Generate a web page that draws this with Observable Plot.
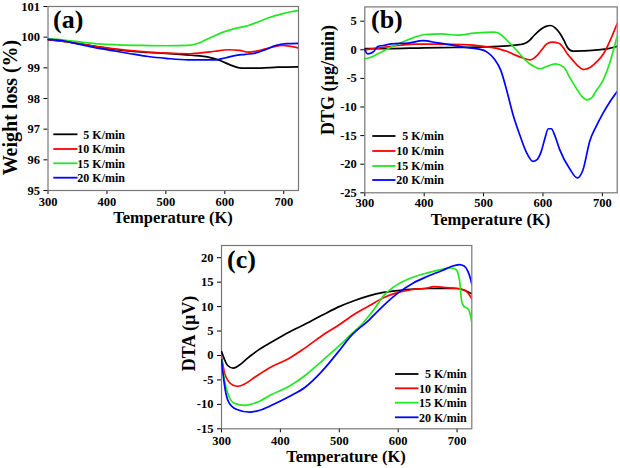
<!DOCTYPE html>
<html><head><meta charset="utf-8">
<script src="https://cdn.jsdelivr.net/npm/d3@7"></script>
<script src="https://cdn.jsdelivr.net/npm/@observablehq/plot@0.6"></script>
<style>
body{margin:0;background:#fff;}
#wrap{position:relative;width:620px;height:468px;overflow:hidden;}
.panel{position:absolute;}
#overlay{position:absolute;left:0;top:0;pointer-events:none;}
</style></head>
<body><div id="wrap"></div>
<script>
const series = ["5 K/min", "10 K/min", "15 K/min", "20 K/min"];
const colors = ["#000000", "#ff0000", "#22e622", "#0000ff"];
const tempTicks = [300, 400, 500, 600, 700];
const tgaTicks = [95, 96, 97, 98, 99, 100, 101];
const dtgTicks = [5, 0, -5, -10, -15, -20, -25];
const dtaTicks = [20, 15, 10, 5, 0, -5, -10, -15];

// (a) Weight loss (%)
const tga5 = [[300,99.92],[320,99.88],[350,99.8],[380,99.7],[413,99.6],[440,99.54],[470,99.5],[500,99.47],[543,99.41],[572,99.35],[592,99.24],[611,99.08],[628,98.99],[660,98.99],[690,99.02],[725,99.03]];
const tga10 = [[300,99.92],[320,99.88],[350,99.8],[380,99.7],[413,99.62],[440,99.56],[470,99.51],[500,99.48],[538,99.46],[560,99.49],[583,99.54],[606,99.59],[625,99.57],[640,99.51],[662,99.58],[680,99.67],[697,99.73],[712,99.7],[725,99.65]];
const tga15 = [[300,99.95],[330,99.9],[360,99.83],[385,99.78],[420,99.75],[460,99.73],[500,99.72],[538,99.73],[555,99.8],[566,99.9],[580,100.02],[594,100.14],[615,100.27],[640,100.38],[657,100.5],[677,100.65],[697,100.76],[710,100.82],[725,100.87]];
const tga20 = [[300,99.93],[320,99.9],[350,99.78],[380,99.66],[413,99.55],[440,99.46],[470,99.37],[500,99.31],[538,99.26],[583,99.26],[600,99.32],[617,99.4],[635,99.44],[652,99.48],[670,99.6],[686,99.73],[705,99.79],[725,99.8]];

// (b) DTG (µg/min)
const dtg5 = [[300,0.2],[340,0.2],[400,0.35],[450,0.4],[500,0.5],[540,0.7],[560,0.9],[568,1.05],[577,1.6],[585,2.5],[596,3.55],[605,4.1],[613,4.25],[621,3.8],[629,2.8],[636,1.5],[641,0.45],[650,-0.24],[665,-0.2],[691,0],[710,0.2],[725,0.6]];
const dtg10 = [[300,0],[315,0.2],[333,0.45],[360,0.8],[384,1.0],[420,1.0],[467,0.9],[500,0.6],[524,0.2],[540,-0.3],[551,-0.8],[565,-1.4],[579,-1.75],[590,-1.0],[598,0],[606,1.0],[615,1.33],[627,1.15],[634,0.4],[641,-0.7],[650,-1.8],[658,-2.74],[669,-3.44],[680,-3.04],[690,-2.17],[702,-0.7],[713,1.6],[725,4.6]];
const dtg15 = [[300,-1.6],[310,-1.3],[322,-0.7],[344,0.45],[373,1.75],[401,2.67],[429,2.8],[456,2.55],[484,2.9],[505,3.05],[518,3.08],[527,2.8],[534,2.2],[542,1.4],[551,0.45],[560,-0.6],[568,-1.57],[577,-2.4],[585,-2.92],[596,-3.32],[607,-2.87],[621,-2.45],[635,-3.04],[646,-5.0],[656,-6.7],[666,-8.2],[674,-8.75],[682,-8.4],[690,-7.1],[701,-5.4],[712,-2.45],[718,-0.3],[725,2.4]];
const dtg20 = [[300,0],[305,-0.7],[314,-0.4],[322,0.58],[331,0.75],[345,1.05],[373,1.17],[398,1.6],[423,1.2],[445,0.87],[467,0.45],[490,0.17],[506,-0.4],[518,-1.6],[529,-3.6],[539,-7.1],[550,-11.5],[561,-14.9],[572,-17.9],[583,-19.5],[590,-19.2],[597,-17.8],[603,-15.6],[609,-13.8],[614,-13.8],[620,-15.0],[628,-17.4],[645,-20.8],[658,-22.4],[667,-21.1],[679,-15.9],[690,-13.3],[701,-11.1],[712,-9.2],[725,-7.3]];

// (c) DTA (µV)
const dta5 = [[300,0.8],[305,-0.8],[310,-2.0],[320,-2.6],[330,-2.0],[340,-1.0],[350,0],[360,0.9],[380,2.4],[400,3.8],[425,5.4],[450,6.9],[475,8.5],[500,10.0],[525,11.2],[550,12.2],[575,12.9],[600,13.3],[650,13.7],[700,13.7],[712,13.4],[725,12.6]];
const dta10 = [[300,-0.3],[305,-3.5],[312,-5.3],[320,-6.1],[328,-6.3],[340,-5.8],[357,-4.4],[385,-2.3],[413,-0.7],[440,1.4],[470,4.0],[500,6.3],[525,8.4],[550,10.1],[575,11.8],[600,12.9],[625,13.5],[650,13.8],[660,14.1],[680,13.9],[700,13.7],[715,13.2],[725,11.6]];
const dta15 = [[300,-0.6],[305,-5],[312,-8.2],[322,-9.8],[340,-10.2],[360,-9.6],[385,-8.0],[415,-6.3],[442,-4.1],[470,-1.2],[500,2.0],[518,4.1],[540,6.6],[560,9.6],[575,12.2],[590,13.8],[600,14.6],[625,16.0],[650,16.9],[670,17.5],[690,17.9],[698,17.6],[704,15.5],[708,11],[712,10.0],[717,9.7],[721,9.0],[725,6.8]];
const dta20 = [[300,-0.8],[305,-6],[312,-9.5],[325,-11.0],[348,-11.6],[365,-11.2],[385,-10.2],[415,-8.4],[442,-6.5],[470,-3.3],[500,1.0],[518,3.75],[550,7.2],[575,10.2],[600,12.8],[625,14.8],[650,16.2],[675,17.4],[690,18.2],[704,18.6],[712,18.3],[718,17.3],[722,16.0],[725,14.6]];

const rows = arrs => arrs.flatMap((a, i) => a.map(([t, v]) => ({t, v, s: series[i]})));
const fmt = d => String(d);
const FONT = "'Liberation Serif','Times New Roman',serif";

function panel({data, yDomain, yTicks, width, height, ml, mr, mt, mb, xpad}) {
  return Plot.plot({
    width, height, marginLeft: ml, marginRight: mr, marginTop: mt, marginBottom: mb,
    style: {fontFamily: FONT, fontSize: "12.5px", fontWeight: "bold", color: "#000", background: "transparent", overflow: "visible"},
    x: {domain: [300, 725], ticks: tempTicks, tickFormat: fmt, label: null, tickSize: 4, tickPadding: xpad},
    y: {domain: yDomain, ticks: yTicks, tickFormat: fmt, label: null, tickSize: 4, tickPadding: 4},
    color: {domain: series, range: colors},
    marks: [
      Plot.frame({stroke: "#777", strokeWidth: 1.2}),
      Plot.line(data, {x: "t", y: "v", z: "s", stroke: "s", strokeWidth: 1.7, curve: "monotone-x", clip: true})
    ]
  });
}

const wrap = document.getElementById("wrap");
const specs = [
  {left: 0, top: 0, data: rows([tga5, tga10, tga15, tga20]), yDomain: [95, 101], yTicks: tgaTicks, width: 310, height: 230, ml: 47.5, mr: 12, mt: 6, mb: 40, xpad: 3},
  {left: 310, top: 0, data: rows([dtg5, dtg10, dtg15, dtg20]), yDomain: [-25, 7.5], yTicks: dtgTicks, width: 310, height: 230, ml: 54.3, mr: 3.3, mt: 6.4, mb: 37.7, xpad: 1.5},
  {left: 150, top: 230, data: rows([dta5, dta10, dta15, dta20]), yDomain: [-15, 22.5], yTicks: dtaTicks, width: 324, height: 238, ml: 71, mr: 2.7, mt: 15, mb: 39.7, xpad: 3}
];
for (const s of specs) {
  const d = document.createElement("div");
  d.className = "panel";
  d.style.left = s.left + "px";
  d.style.top = s.top + "px";
  d.appendChild(panel(s));
  wrap.appendChild(d);
}

// overlay: panel letters, axis titles, legends
const svg = d3.select(wrap).append("svg").attr("id", "overlay")
  .attr("width", 620).attr("height", 468)
  .style("font-family", FONT).style("font-weight", "bold");

const letters = [["(a)", 53, 28.3], ["(b)", 371, 28.3], ["(c)", 227, 268.3]];
svg.selectAll("text.letter").data(letters).join("text").attr("class", "letter")
  .attr("x", d => d[1]).attr("y", d => d[2]).attr("font-size", 26).text(d => d[0]);

const xTitles = [["Temperature (K)", 173, 223], ["Temperature (K)", 490.5, 224.5], ["Temperature (K)", 346, 461.5]];
svg.selectAll("text.xt").data(xTitles).join("text").attr("class", "xt")
  .attr("x", d => d[1]).attr("y", d => d[2]).attr("text-anchor", "middle").attr("font-size", 16.5).text(d => d[0]);

const yTitles = [["Weight loss (%)", 16.5, 107.5, 20], ["DTG (\u00b5g/min)", 334, 80, 18], ["DTA (\u00b5V)", 194.5, 333.5, 18]];
svg.selectAll("text.yt").data(yTitles).join("text").attr("class", "yt")
  .attr("transform", d => `translate(${d[1]},${d[2]}) rotate(-90)`)
  .attr("text-anchor", "middle").attr("font-size", d => d[3]).text(d => d[0]);

const legends = [
  {x1: 53.3, x2: 77.5, xe: 125, ys: [134.3, 149, 163.3, 177.7]},
  {x1: 372.3, x2: 395.5, xe: 444, ys: [136, 151, 166, 180]},
  {x1: 395, x2: 418.5, xe: 466.7, ys: [374, 388.3, 402.7, 417.3]}
];
for (const L of legends) {
  const g = svg.append("g");
  series.forEach((s, i) => {
    g.append("line").attr("x1", L.x1).attr("x2", L.x2).attr("y1", L.ys[i]).attr("y2", L.ys[i])
      .attr("stroke", colors[i]).attr("stroke-width", 1.8);
    g.append("text").attr("x", L.xe).attr("y", L.ys[i] + 4.3).attr("text-anchor", "end")
      .attr("font-size", 12).text(s);
  });
}
</script></body></html>
